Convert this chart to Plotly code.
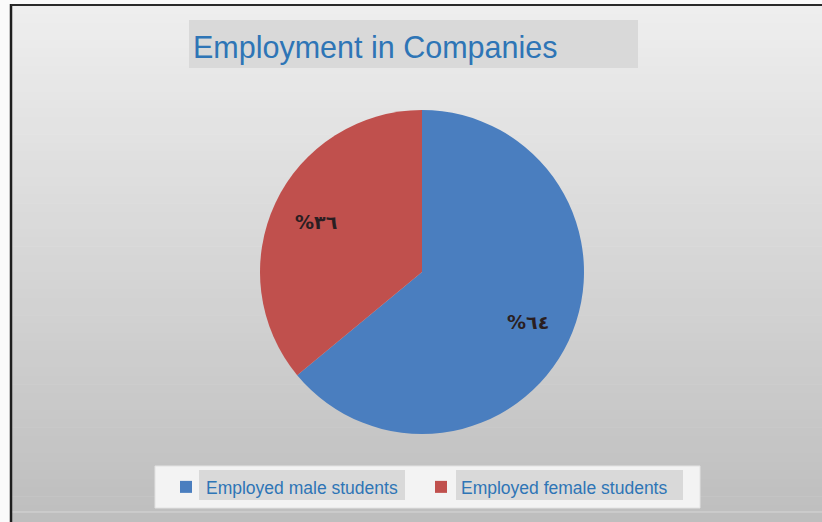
import numpy as np
import plotly.graph_objects as go

# Data
categories = ["Employed male students", "Employed female students"]
shares = [64, 36]
share_labels = ["%٦٤", "%٣٦"]
slice_colors = ["#4A7EBF", "#C0504D"]

W, H = 822, 522
cx, cy, R = 422, 272, 162  # pie centre / radius in pixels

fig = go.Figure()

fig.add_trace(go.Pie(
    labels=categories,
    values=shares,
    sort=False,
    direction="clockwise",
    rotation=0,
    marker=dict(colors=slice_colors, line=dict(width=0)),
    textinfo="none",
    hoverinfo="label+percent",
    domain=dict(x=[(cx - R) / W, (cx + R) / W],
                y=[1 - (cy + R) / H, 1 - (cy - R) / H]),
))

# Slice labels placed along each slice's mid-angle
total = float(sum(shares))
start = 0.0
annotations = []
for v, txt in zip(shares, share_labels):
    mid = (start + v / 2) / total * 2 * np.pi
    start += v
    px = cx + 0.72 * R * np.sin(mid)
    py = cy - 0.72 * R * np.cos(mid)
    annotations.append(dict(
        x=px / W, y=1 - py / H, xref="paper", yref="paper",
        text=f"<b>{txt}</b>", showarrow=False,
        font=dict(family="DejaVu Sans", size=19, color="#2a1e22"),
    ))

# Background: vertical grey gradient built from thin bands
shapes = []
top, bottom = 5, 522
n = 60
for i in range(n):
    y0 = top + (bottom - top) * i / n
    y1 = top + (bottom - top) * (i + 1) / n + 0.6
    g = int(round(238 - (238 - 190) * i / (n - 1)))
    shapes.append(dict(type="rect", xref="paper", yref="paper",
                       x0=11 / W, x1=1, y0=1 - y1 / H, y1=1 - y0 / H,
                       fillcolor=f"rgb({g},{g},{g})", line=dict(width=0),
                       layer="below"))
# Frame lines
shapes.append(dict(type="line", xref="paper", yref="paper",
                   x0=11 / W, x1=1, y0=1 - 512 / H, y1=1 - 512 / H,
                   line=dict(color="#D6D6D6", width=1), layer="below"))
shapes.append(dict(type="line", xref="paper", yref="paper",
                   x0=11 / W, x1=11 / W, y0=0, y1=1 - 4 / H,
                   line=dict(color="#1e1e1e", width=2.5), layer="below"))
shapes.append(dict(type="line", xref="paper", yref="paper",
                   x0=11 / W, x1=1, y0=1 - 5 / H, y1=1 - 5 / H,
                   line=dict(color="#2a2a2a", width=2), layer="below"))
# Title box
shapes.append(dict(type="rect", xref="paper", yref="paper",
                   x0=189 / W, x1=638 / W, y0=1 - 68 / H, y1=1 - 20 / H,
                   fillcolor="#D9D9D9", line=dict(width=0), layer="below"))
# Legend box and text backgrounds
shapes.append(dict(type="rect", xref="paper", yref="paper",
                   x0=155 / W, x1=700 / W, y0=1 - 508 / H, y1=1 - 466 / H,
                   fillcolor="#F3F3F3", line=dict(color="#E2E2E2", width=1),
                   layer="below"))
shapes.append(dict(type="rect", xref="paper", yref="paper",
                   x0=199 / W, x1=405 / W, y0=1 - 500 / H, y1=1 - 470 / H,
                   fillcolor="#D9D9D9", line=dict(width=0), layer="below"))
shapes.append(dict(type="rect", xref="paper", yref="paper",
                   x0=456 / W, x1=683 / W, y0=1 - 500 / H, y1=1 - 470 / H,
                   fillcolor="#D9D9D9", line=dict(width=0), layer="below"))

fig.update_layout(
    width=W, height=H,
    margin=dict(l=0, r=0, t=0, b=0),
    paper_bgcolor="#FAFAFA",
    plot_bgcolor="rgba(0,0,0,0)",
    title=dict(text="Employment in Companies",
               x=193 / W, xanchor="left", y=1 - 47 / H, yanchor="middle",
               font=dict(family="Liberation Sans", size=30.5, color="#2E75B6")),
    showlegend=True,
    legend=dict(orientation="h", x=166 / W, xanchor="left",
                y=1 - 487 / H, yanchor="middle",
                bgcolor="rgba(0,0,0,0)", borderwidth=0,
                entrywidth=210, entrywidthmode="pixels",
                font=dict(family="Liberation Sans", size=17.5, color="#2E75B6")),
    shapes=shapes,
    annotations=annotations,
)

fig.write_html("out.html")
